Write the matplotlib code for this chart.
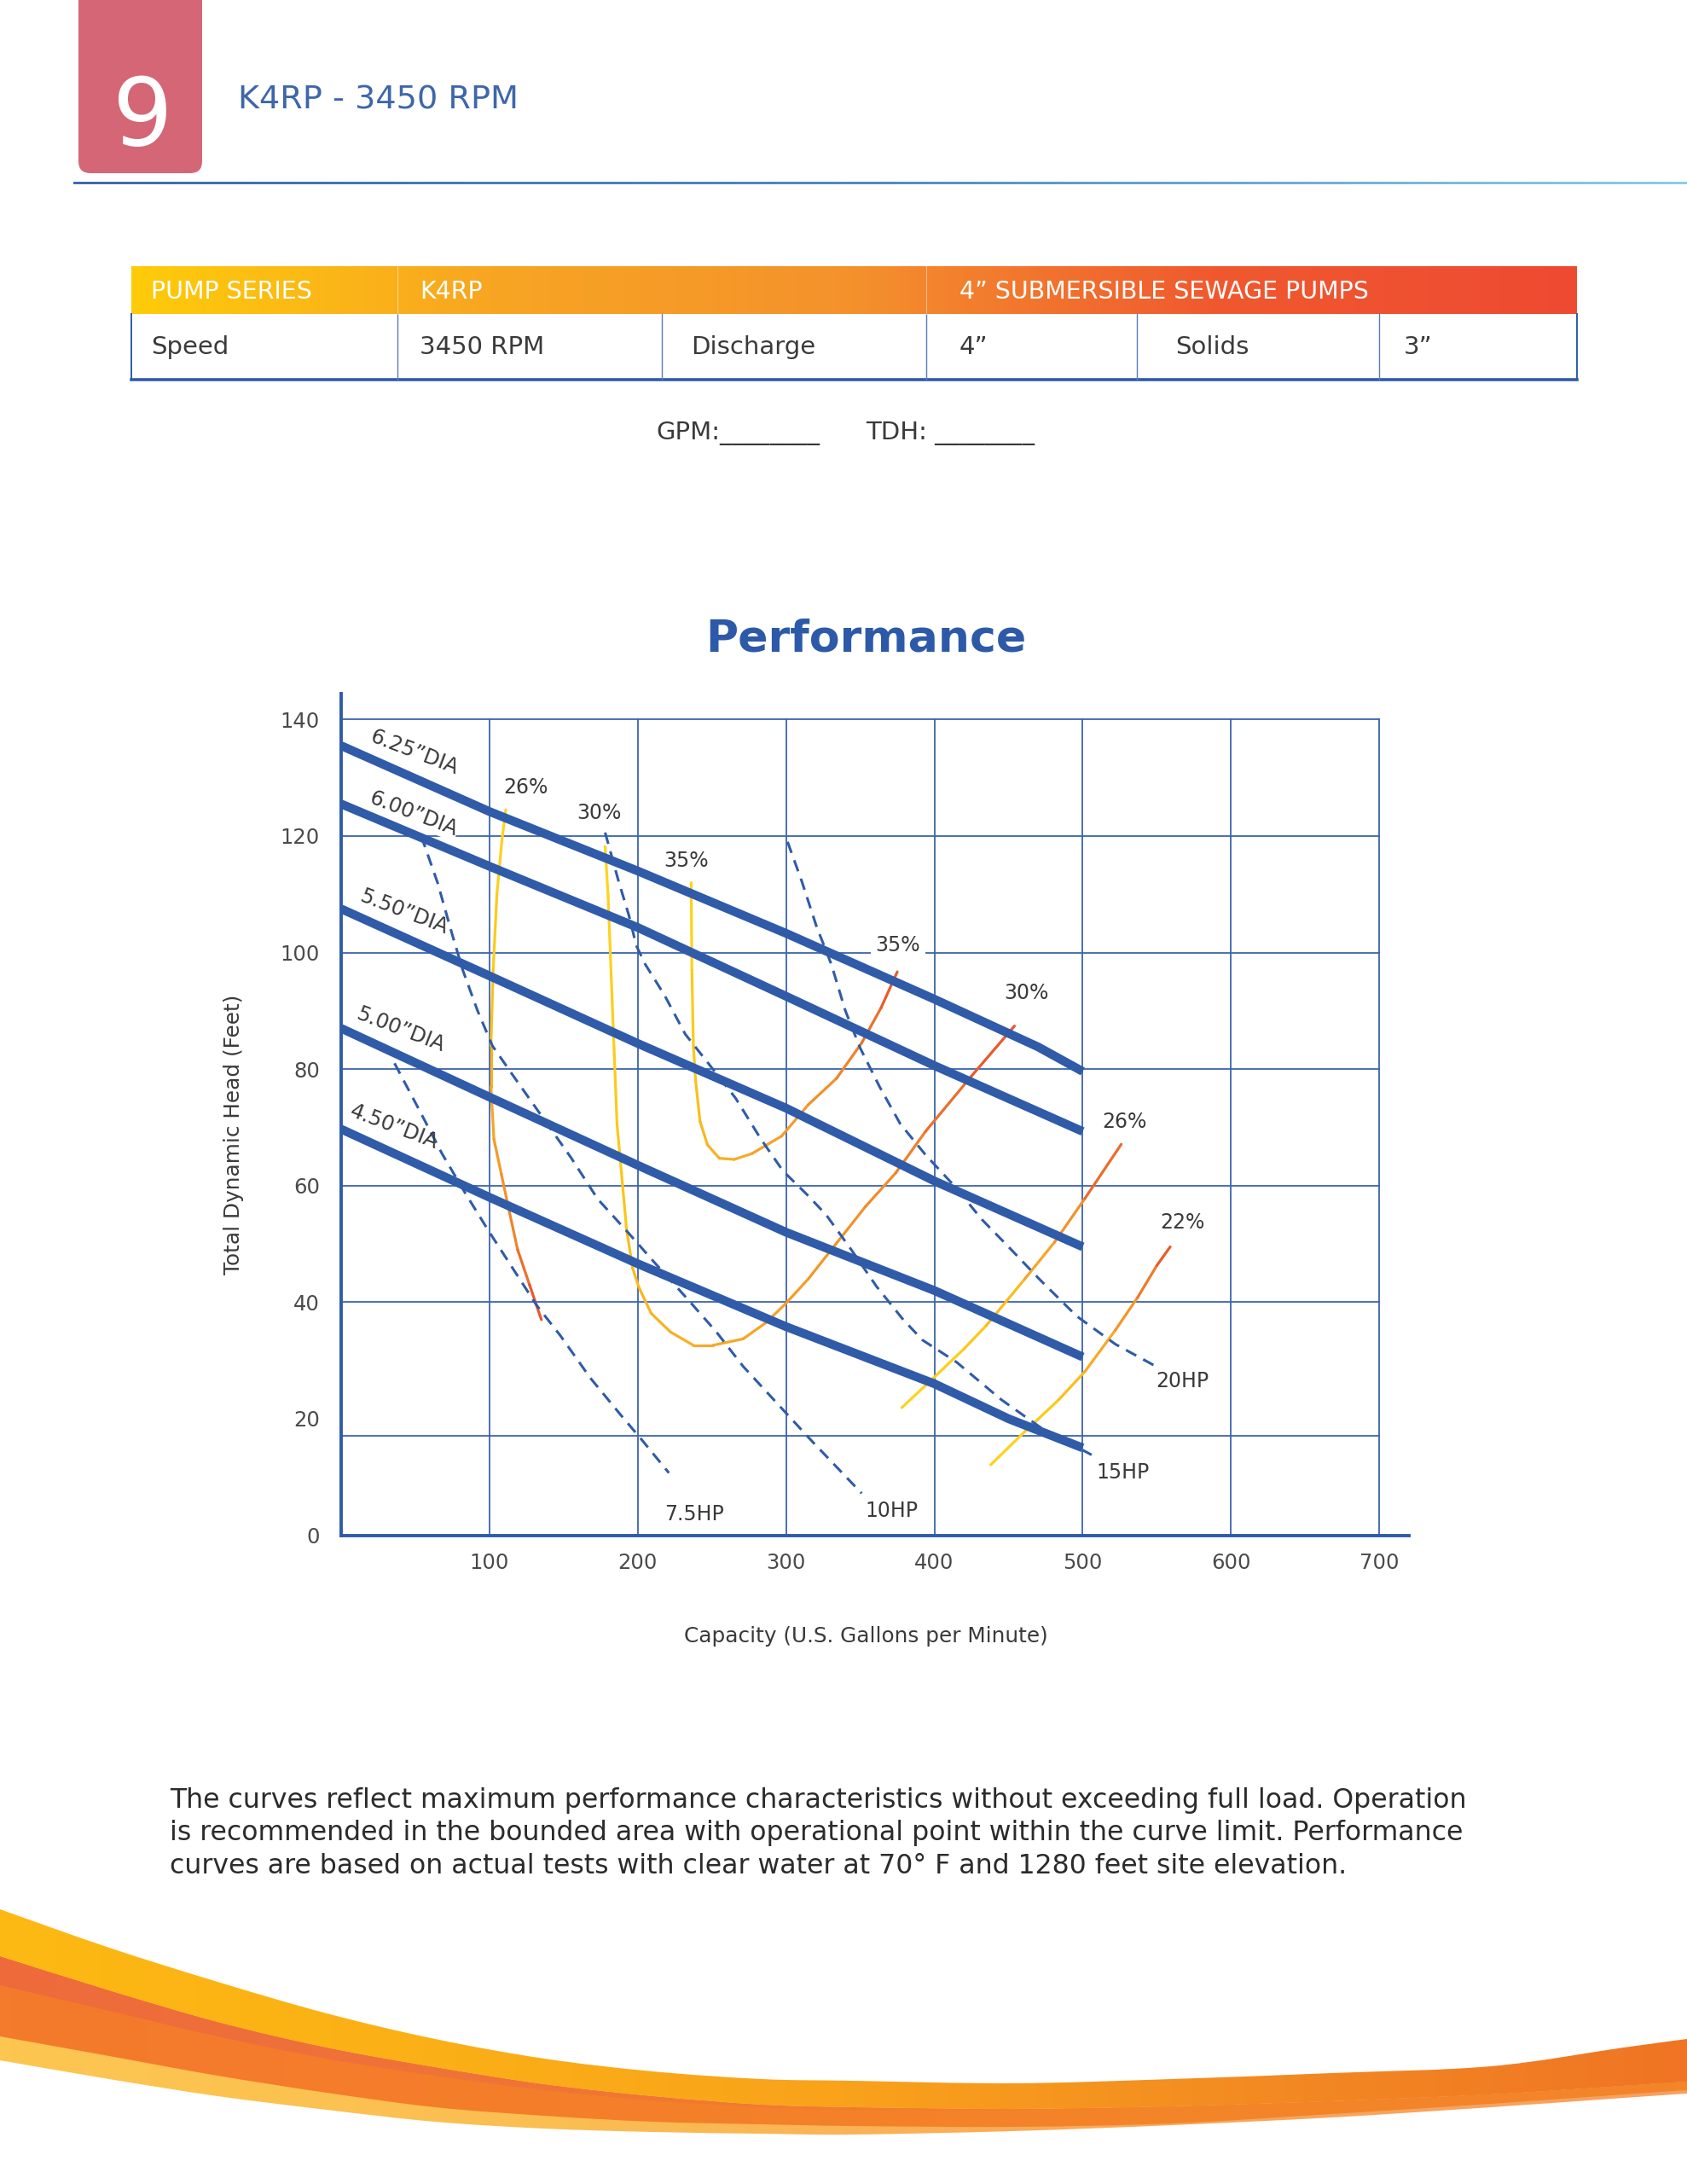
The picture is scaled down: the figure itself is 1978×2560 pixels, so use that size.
"""
K4RP - 3450 RPM pump performance sheet
"""
import numpy as np
import matplotlib
matplotlib.use("Agg")
import matplotlib.pyplot as plt
from matplotlib.collections import LineCollection
from matplotlib.colors import LinearSegmentedColormap
from matplotlib.patches import FancyBboxPatch, PathPatch
from matplotlib.path import Path

# USER DATA
# impeller diameter curves (GPM, feet)
DIA_LABELS = ["6.25”DIA", "6.00”DIA", "5.50”DIA", "5.00”DIA", "4.50”DIA"]
DIA_625_Q = [0, 100, 200, 300, 400, 470, 500]
DIA_625_H = [135.5, 124.2, 114.0, 103.3, 92.0, 83.8, 79.6]
DIA_600_Q = [0, 100, 200, 300, 400, 500]
DIA_600_H = [125.5, 114.8, 104.3, 92.5, 80.6, 69.3]
DIA_550_Q = [0, 100, 200, 300, 400, 500]
DIA_550_H = [107.5, 96.0, 84.4, 73.3, 60.8, 49.5]
DIA_500_Q = [0, 100, 200, 300, 400, 500]
DIA_500_H = [87.0, 75.2, 63.5, 52.0, 42.0, 30.6]
DIA_450_Q = [0, 100, 200, 300, 400, 450, 500]
DIA_450_H = [69.7, 58.0, 46.6, 35.8, 26.0, 20.0, 15.0]
DIA_LABEL_XY = [(49, 134.3), (48.5, 123.8), (42.5, 106.9), (40, 86.7), (35.5, 70.0)]

# efficiency curves
EFF_26L_Q = [111, 108.5, 105, 102.5, 101, 101, 103, 108, 113, 119, 127, 135]
EFF_26L_H = [124.5, 119.5, 110, 97, 84, 77, 68, 62, 56, 49, 43, 37]
EFF_30_Q = [178, 180, 182, 184, 186, 189, 192.5, 196.5, 200.5, 209, 222, 237.5,
            250.5, 271, 286.5, 299.5, 315, 333, 353.5, 374, 394, 425, 454]
EFF_30_H = [118.2, 109.7, 96.6, 83.6, 70.6, 62.2, 52.4, 45.9, 42.7, 38.1, 34.9, 32.6,
            32.6, 33.7, 36.5, 39.7, 44.0, 49.8, 56.4, 62.2, 69.3, 78.8, 87.4]
EFF_35_Q = [236, 236.5, 237.5, 239, 242, 247, 255, 265, 277, 297, 315, 334, 351, 364, 375]
EFF_35_H = [112, 97, 84, 78, 71, 67, 64.7, 64.5, 65.5, 68.5, 73.9, 78.4, 84.5, 90.5, 96.7]
EFF_26R_Q = [378, 394, 420, 435, 461, 481, 501.5, 526]
EFF_26R_H = [21.9, 25.7, 32.0, 36.0, 44.0, 50.3, 57.8, 67.1]
EFF_22_Q = [438, 461, 484, 501.5, 522, 537, 550, 559]
EFF_22_H = [12.1, 17.8, 23.3, 28.1, 35.2, 40.8, 46.3, 49.5]
EFF_LABELS = ["26%", "30%", "35%", "35%", "30%", "26%", "22%"]
EFF_LABEL_XY = [(124.5, 128.3), (174, 124), (232.5, 115.7), (375.5, 101.3),
                (462, 93.1), (528, 71), (567, 53.7)]

# horsepower limit lines
HP_75_Q = [36, 52, 68, 83, 99, 117, 132, 148, 168, 189, 202, 221]
HP_75_H = [81, 73.3, 65.5, 59, 52.4, 45.3, 39.4, 34.2, 27, 20.5, 16.6, 10.7]
HP_10_Q = [54, 65, 75, 82, 92, 102, 117, 137, 155, 173, 194, 212, 233, 253, 271, 297, 318, 351]
HP_10_H = [120, 112, 103, 97, 90, 84, 78.5, 71.3, 64.8, 57.7, 51.8, 46.6, 40.7, 34.9, 29, 21.8, 16, 7.2]
HP_15_Q = [178, 187, 194, 199, 205, 218, 232, 246, 266, 283, 298, 314, 327, 344, 361,
           379, 392, 415, 445, 471, 506]
HP_15_H = [120.6, 112.3, 106.4, 101.2, 98, 92.7, 86, 81.5, 75, 68, 62.5, 58.5, 55, 49, 42.7,
           37, 33.5, 29.7, 23.3, 18.6, 13.8]
HP_20_Q = [301, 310.5, 320.5, 330.5, 340, 350, 363, 377, 394, 414, 432, 450, 471, 496, 522, 550]
HP_20_H = [119, 112.3, 104.5, 98, 90, 83.6, 77, 70.6, 65.3, 59.8, 54.2, 49.5, 43.9, 37.6, 32.8, 28.9]
HP_LABELS = ["7.5HP", "10HP", "15HP", "20HP"]
HP_LABEL_XY = [(238, 3.6), (371, 4.2), (527, 10.8), (567, 26.5)]

X_TICKS = [100, 200, 300, 400, 500, 600, 700]
Y_TICKS = [0, 20, 40, 60, 80, 100, 120, 140]
GRID_X = [100, 200, 300, 400, 500, 600, 700]
GRID_Y = [17.1, 40, 60, 80, 100, 120, 140]   # the 20 ft line sits low in the source

HEADER_CELLS = ["PUMP SERIES", "K4RP", "4” SUBMERSIBLE SEWAGE PUMPS"]
ROW_CELLS = ["Speed", "3450 RPM", "Discharge", "4”", "Solids", "3”"]

NOTE_LINES = [
    "The curves reflect maximum performance characteristics without exceeding full load. Operation",
    "is recommended in the bounded area with operational point within the curve limit. Performance",
    "curves are based on actual tests with clear water at 70° F and 1280 feet site elevation.",
]

OUTPUT_FILE_NAME = "out.png"

# PLOT SECTION
plt.rcParams['font.family'] = ['DejaVu Sans']

BLUE = "#2F5BA8"
GRID_BLUE = "#3D63AE"
TXT = "#3a3a3a"
W, H = 1978, 2560

fig = plt.figure(figsize=(W / 100, H / 100), dpi=100)
fig.patch.set_facecolor("white")

# page layer in pixel coordinates (y down)
pg = fig.add_axes([0, 0, 1, 1])
pg.set_xlim(0, W)
pg.set_ylim(H, 0)
pg.axis("off")


def grad_fill(patch, colors, x0, x1, y0, y1, z):
    pg.add_patch(patch)
    cm = LinearSegmentedColormap.from_list("g", colors)
    im = pg.imshow(np.linspace(0, 1, 256).reshape(1, -1), cmap=cm, aspect="auto",
                   extent=(x0, x1, y1, y0), zorder=z, interpolation="bilinear")
    im.set_clip_path(patch)


# number badge and header
badge = FancyBboxPatch((92, -30), 145, 233, boxstyle="round,pad=0,rounding_size=14",
                       fc="#D56676", ec="none", zorder=2)
pg.add_patch(badge)
pg.text(167, 140, "9", color="white", fontsize=80, ha="center", va="center", zorder=3)
pg.text(279, 118, "K4RP - 3450 RPM", color="#3E66AA", fontsize=27.5, ha="left", va="center")

rule_cm = LinearSegmentedColormap.from_list("r", ["#3C6CAE", "#4F8DC4", "#8CCDE9"])
pg.imshow(np.linspace(0, 1, 256).reshape(1, -1), cmap=rule_cm, aspect="auto",
          extent=(86, W, 216.5, 213.5), zorder=2)

# spec table
tx0, tx1, ty0, ty1, ty2 = 154, 1849, 312, 368, 445
hdr = FancyBboxPatch((tx0, ty0), tx1 - tx0, ty1 - ty0, boxstyle="square,pad=0", fc="none", ec="none")
grad_fill(hdr, ["#FECB0A", "#F8A523", "#F4912C", "#F0592F", "#EE4A32"], tx0, tx1, ty0, ty1, 2)
for xd in [465.5, 1086]:
    pg.plot([xd, xd], [ty0, ty1], color="white", alpha=0.45, lw=0.8, zorder=3)
for xt, s in zip([177, 492, 1125], HEADER_CELLS):
    pg.text(xt, 342, s, color="white", fontsize=20.5, ha="left", va="center", zorder=4)
pg.plot([tx0, tx0], [ty1, ty2], color=BLUE, lw=1.4)
pg.plot([tx1, tx1], [ty1, ty2], color=BLUE, lw=1.4)
pg.plot([tx0, tx1], [ty2, ty2], color=BLUE, lw=2.6)
for xd in [465.5, 776, 1086, 1333, 1617]:
    pg.plot([xd, xd], [ty1, ty2], color="#5A7CBC", lw=1.0)
for xt, s in zip([177, 492, 810, 1125, 1378, 1646], ROW_CELLS):
    pg.text(xt, 407, s, color=TXT, fontsize=21, ha="left", va="center")

pg.text(769, 508, "GPM:________", color=TXT, fontsize=21, ha="left", va="center")
pg.text(1015, 508, "TDH: ________", color=TXT, fontsize=21, ha="left", va="center")

pg.text(1015, 749, "Performance", color="#2D5AA8", fontsize=37.5, fontweight="bold",
        ha="center", va="center")

for i, line in enumerate(NOTE_LINES):
    pg.text(199, 2110 + 39 * i, line, color="#2b2b2b", fontsize=22.7, ha="left", va="center")


# bottom swoosh (page pixel coordinates)
def smooth(pts):
    p = np.asarray(pts, float)
    verts = [tuple(p[0])]
    for i in range(len(p) - 1):
        p0 = p[i - 1] if i > 0 else p[i]
        p3 = p[i + 2] if i + 2 < len(p) else p[i + 1]
        verts += [tuple(p[i] + (p[i + 1] - p0) / 6), tuple(p[i + 1] - (p3 - p[i]) / 6), tuple(p[i + 1])]
    return verts


def band(xs, top, bot):
    vt = smooth(list(zip(xs, top)))
    vb = smooth(list(zip(xs, bot))[::-1])
    verts = vt + vb + [vt[0]]
    codes = ([Path.MOVETO] + [Path.CURVE4] * (len(vt) - 1) + [Path.LINETO]
             + [Path.CURVE4] * (len(vb) - 1) + [Path.CLOSEPOLY])
    return PathPatch(Path(verts, codes), fc="none", ec="none")


SW_X = [0, 128, 255, 383, 510, 638, 765, 893, 1000, 1187, 1374, 1561, 1748, 1904, 1978]
SW_TOP = [2238, 2283, 2323, 2360, 2390, 2413, 2428, 2437, 2439, 2442, 2437, 2430, 2422, 2400, 2390]
SW_GOLD = [2293, 2333, 2370, 2400, 2423, 2443, 2457, 2467, 2470, 2472, 2469, 2463, 2455, 2445, 2440]
SW_RED = [2327, 2357, 2387, 2413, 2433, 2450, 2462, 2470, 2473, 2474, 2471, 2465, 2457, 2447, 2442]
SW_ORG = [2387, 2410, 2433, 2453, 2470, 2480, 2487, 2490, 2492, 2493, 2489, 2478, 2466, 2455, 2450]
SW_LOW = [2415, 2437, 2457, 2473, 2487, 2495, 2499, 2501, 2502, 2498, 2491, 2482, 2470, 2459, 2454]

grad_fill(band(SW_X, SW_GOLD, SW_LOW), ["#FDC650", "#FBBE52", "#F9A85A", "#F7A060"], 0, W, 2200, 2560, 1)
grad_fill(band(SW_X, SW_GOLD, SW_ORG), ["#F47A2C", "#F47E2A", "#F58428", "#F4852A"], 0, W, 2200, 2560, 2)
grad_fill(band(SW_X, SW_GOLD, SW_RED), ["#EE6A3C", "#F07536", "#F58428", "#F4852A"], 0, W, 2200, 2560, 3)
grad_fill(band(SW_X, SW_TOP, SW_GOLD), ["#FDB913", "#FBB016", "#F9A21B", "#F38A22", "#F07424"],
          0, W, 2200, 2560, 4)

# chart
ax = fig.add_axes([400 / W, 1 - 1799.6 / H, 1252 / W, 987 / H])
ax.set_facecolor("none")
ax.set_xlim(0, 720)
ax.set_ylim(0, 144.5)
for side in ["top", "right"]:
    ax.spines[side].set_visible(False)
for side in ["left", "bottom"]:
    ax.spines[side].set_color(BLUE)
    ax.spines[side].set_linewidth(2.8)

for gx in GRID_X:
    ax.plot([gx, gx], [0, 140], color=GRID_BLUE, lw=1.3, zorder=1)
for gy in GRID_Y:
    ax.plot([0, 700], [gy, gy], color=GRID_BLUE, lw=1.3, zorder=1)

ax.set_xticks(X_TICKS)
ax.set_yticks(Y_TICKS)
ax.tick_params(length=0, labelsize=17.5, labelcolor="#4a4a4a")
ax.tick_params(axis="x", pad=15)
ax.tick_params(axis="y", pad=18)

eff_cm = LinearSegmentedColormap.from_list(
    "eff", [(0, "#FFD51C"), (0.35, "#FBC61B"), (0.55, "#F8AA25"), (0.8, "#F08A2C"), (1, "#E8502B")])
for q, h in [(EFF_26L_Q, EFF_26L_H), (EFF_30_Q, EFF_30_H), (EFF_35_Q, EFF_35_H),
             (EFF_26R_Q, EFF_26R_H), (EFF_22_Q, EFF_22_H)]:
    pts = np.column_stack([np.array(q) * 1.739, np.array(h) * 6.83])
    seg_len = np.hypot(*np.diff(pts, axis=0).T)
    frac = (np.cumsum(seg_len) - seg_len / 2) / seg_len.sum()
    segs = [[(q[i], h[i]), (q[i + 1], h[i + 1])] for i in range(len(q) - 1)]
    lc = LineCollection(segs, colors=eff_cm(frac), linewidths=2.3, zorder=2, capstyle="round")
    ax.add_collection(lc)

for q, h in [(HP_75_Q, HP_75_H), (HP_10_Q, HP_10_H), (HP_15_Q, HP_15_H), (HP_20_Q, HP_20_H)]:
    ax.plot(q, h, color=BLUE, lw=2.2, linestyle=(0, (4.5, 3.0)), zorder=3)

for q, h in [(DIA_625_Q, DIA_625_H), (DIA_600_Q, DIA_600_H), (DIA_550_Q, DIA_550_H),
             (DIA_500_Q, DIA_500_H), (DIA_450_Q, DIA_450_H)]:
    ax.plot(q, h, color=BLUE, lw=7.4, solid_capstyle="butt", zorder=4)

for i, (s, (x, y)) in enumerate(zip(DIA_LABELS, DIA_LABEL_XY)):
    kw = {}
    if i == 1:
        kw["bbox"] = dict(fc="white", ec="none", pad=1)
    ax.text(x, y, s, fontsize=17.5, color=TXT, rotation=-21, rotation_mode="anchor",
            ha="center", va="center", zorder=5, **kw)
for i, (s, (x, y)) in enumerate(zip(EFF_LABELS, EFF_LABEL_XY)):
    kw = {}
    if i == 3:
        kw["bbox"] = dict(fc="white", ec="none", pad=4)
    ax.text(x, y, s, fontsize=17, color=TXT, ha="center", va="center", zorder=5, **kw)
for s, (x, y) in zip(HP_LABELS, HP_LABEL_XY):
    ax.text(x, y, s, fontsize=17, color=TXT, ha="center", va="center", zorder=5)

fig.text(274 / W, 1 - 1330 / H, "Total Dynamic Head (Feet)", rotation=90, fontsize=17.8,
         color=TXT, ha="center", va="center")
fig.text(1015 / W, 1 - 1918 / H, "Capacity (U.S. Gallons per Minute)", fontsize=17.8,
         color=TXT, ha="center", va="center")

plt.savefig(OUTPUT_FILE_NAME, dpi=100)
